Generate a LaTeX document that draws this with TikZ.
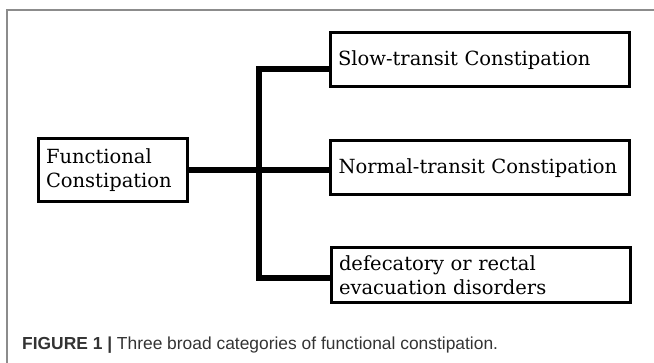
\documentclass[tikz,border=0pt]{standalone}
\usepackage{fontspec}
\newfontfamily\capfont{Liberation Sans}
\newfontfamily\boxfont{DejaVu Serif}
\usetikzlibrary{positioning}
\tikzset{
    catbox/.style={draw, line width=3pt, rectangle, inner xsep=8pt, inner ysep=0pt,
        minimum height=54pt, text width=283pt, align=left,
        font=\boxfont\fontsize{19.5}{24}\selectfont},
    conn/.style={line width=6pt, line join=miter},
    frame/.style={draw=black!45, line width=1.5pt}
}

\begin{document}
\begin{tikzpicture}[x=1pt, y=-1pt]
    \useasboundingbox (0,0) rectangle (654,363);
    \draw[frame] (654,10) -- (7,10) -- (7,363);

    \node[catbox, text width=133pt, minimum height=63pt] (func) at (112.5,170.5) {Functional\\Constipation};
    \node[catbox] (slow) at (479.5,60) {Slow-transit Constipation};
    \node[catbox] (norm) at (480,168) {Normal-transit Constipation};
    \node[catbox, minimum height=55pt] (defe) at (480.5,275.5) {defecatory or rectal\\evacuation disorders};
    \coordinate (junc) at (259,170);

    % branches
    \draw[conn] ([yshift=-9pt]slow.west) -| (junc) |- ([yshift=-2.5pt]defe.west);
    \draw[conn] (func.east) -- (func.east -| norm.west);

    \node[anchor=base west, inner sep=0pt, text=black!80, font=\capfont\fontsize{17.4}{20}\selectfont] (cap) at (22,350)
        {\textbf{FIGURE 1 |} Three broad categories of functional constipation.};
\end{tikzpicture}
\end{document}
